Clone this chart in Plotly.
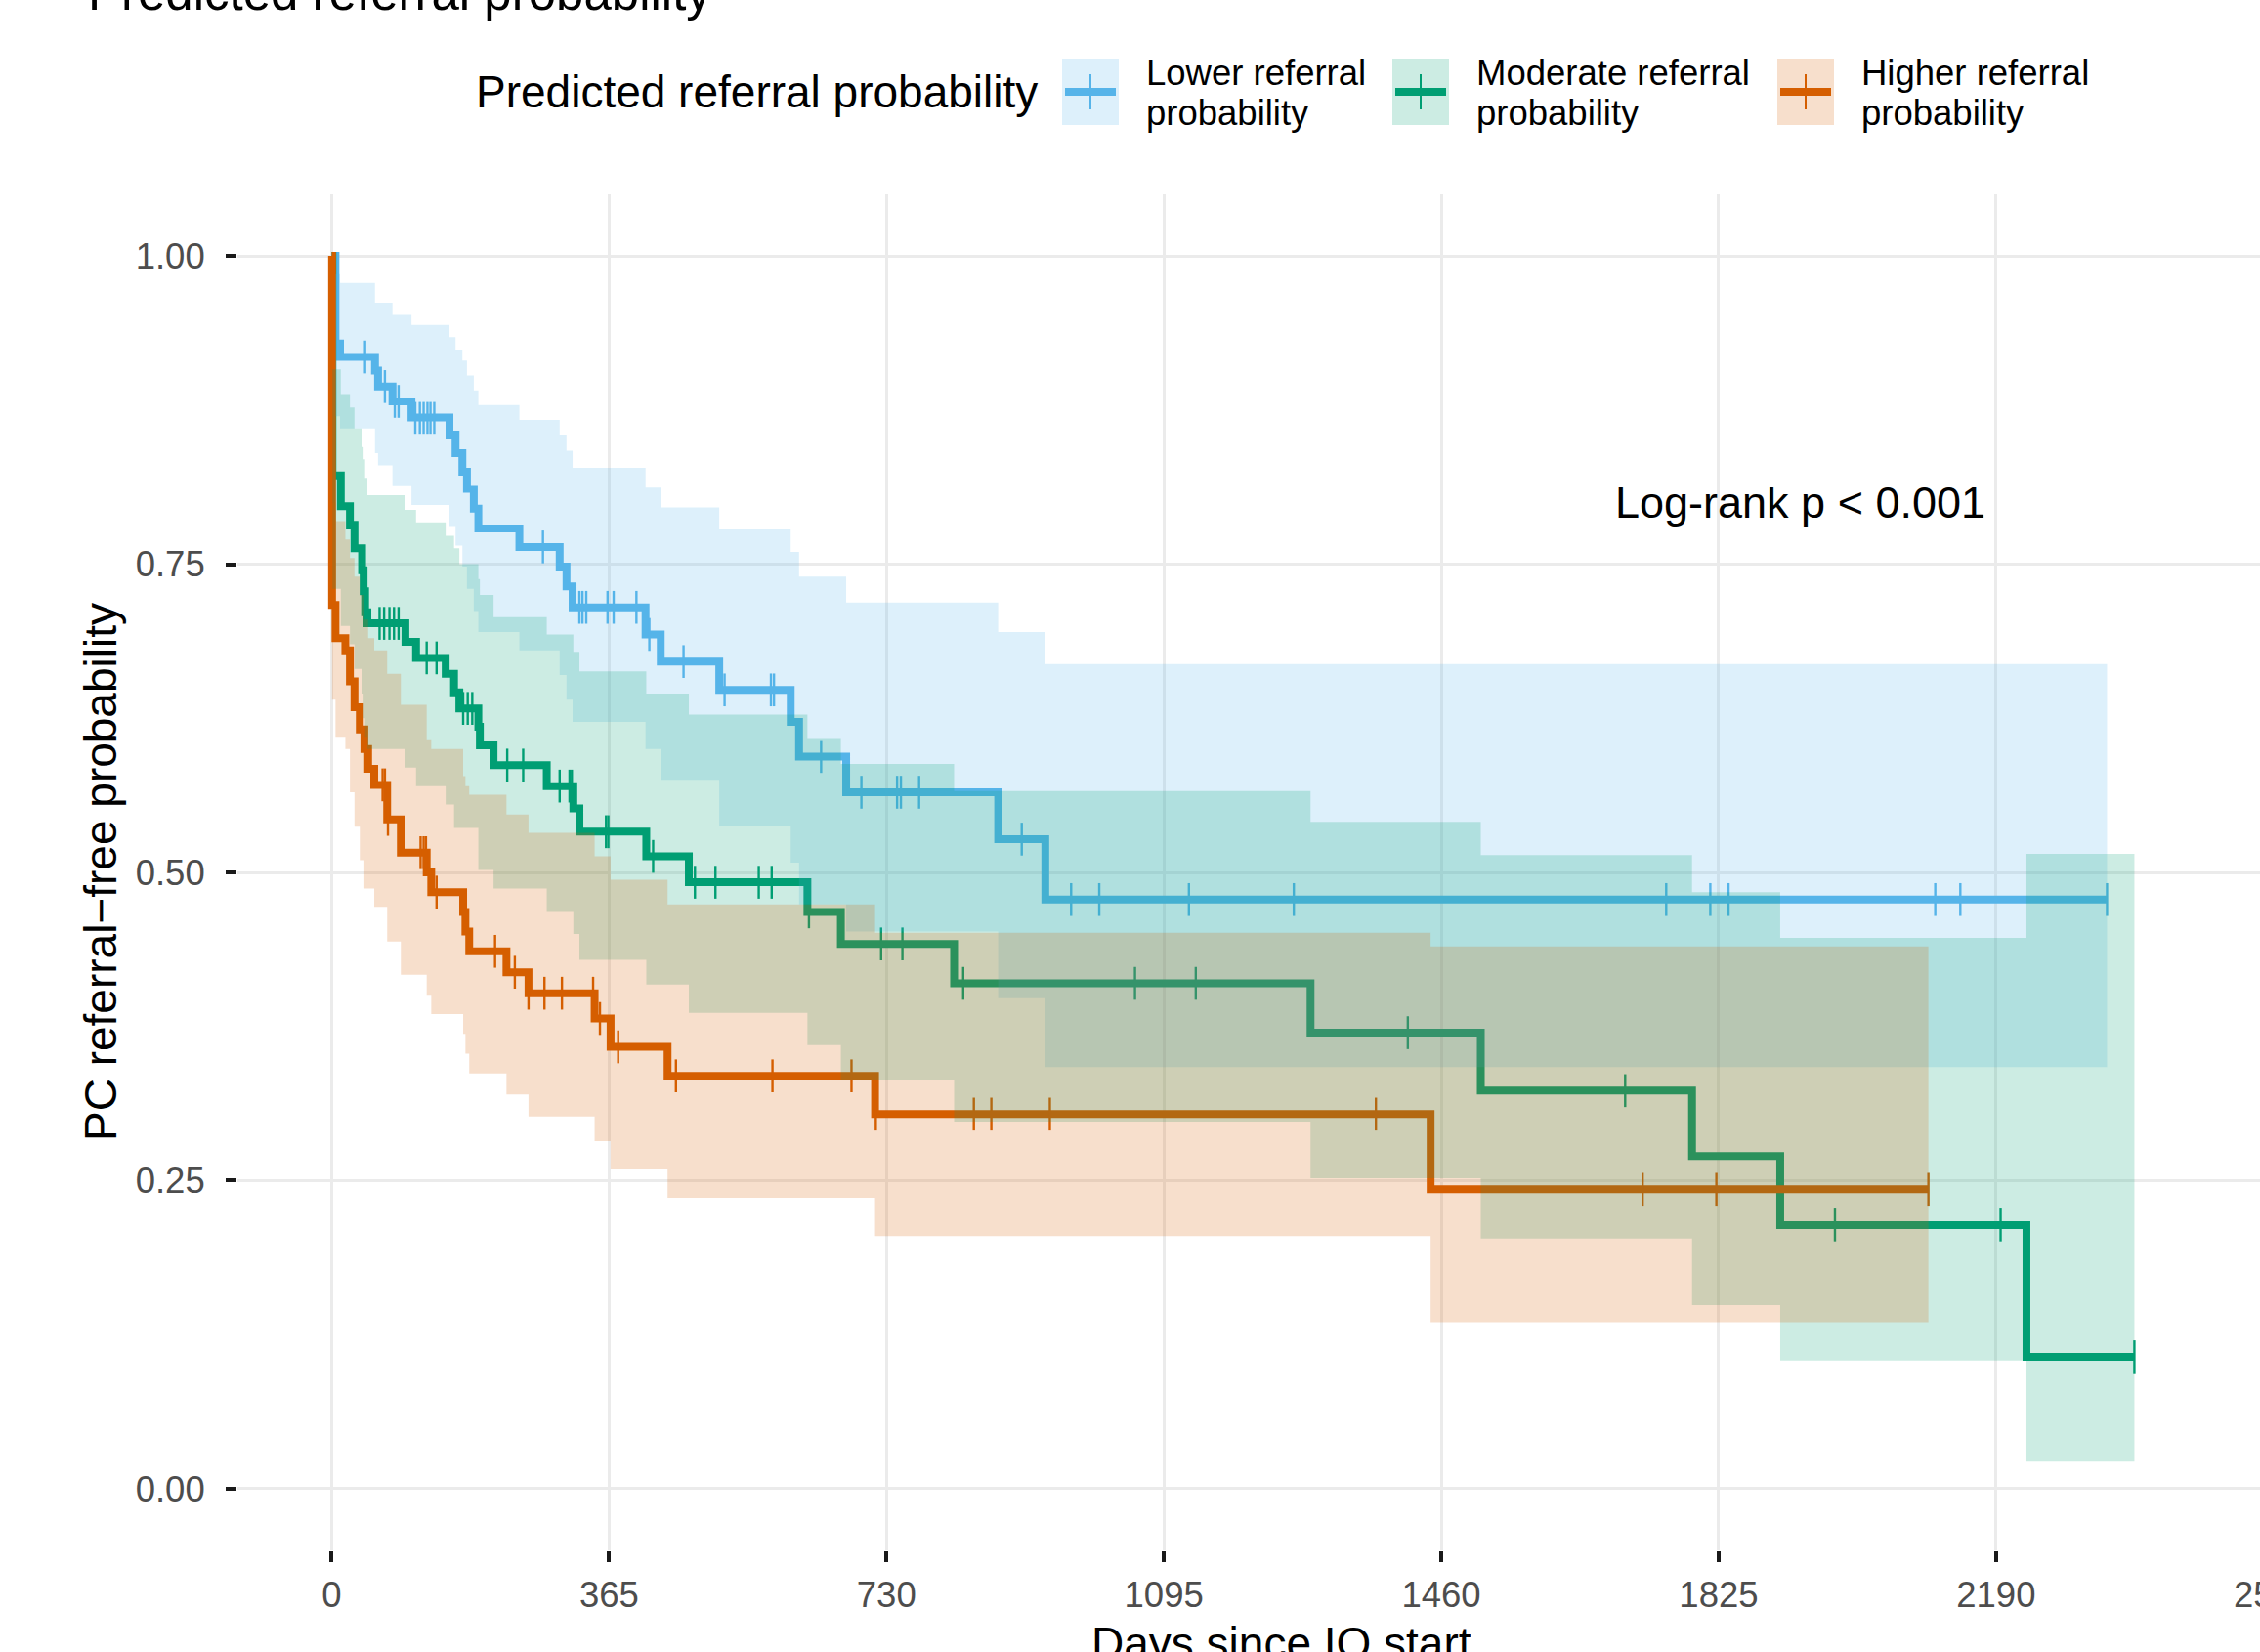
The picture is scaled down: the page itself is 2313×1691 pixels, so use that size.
import bisect
import plotly.graph_objects as go

# ---------------- data ----------------
# Lower referral probability group
low_time = [0, 5, 11, 57, 61, 80, 105, 155, 163, 172, 178, 187, 193, 247, 300, 309, 317, 413, 433, 510, 604, 615, 677, 877, 939]
low_surv = [1.0, 0.929, 0.918, 0.907, 0.894, 0.882, 0.869, 0.855, 0.840, 0.825, 0.811, 0.795, 0.779, 0.764, 0.748, 0.732, 0.715, 0.693, 0.671, 0.648, 0.622, 0.594, 0.565, 0.527, 0.478]
low_upper = [1.0, 0.986, 0.978, 0.962, 0.962, 0.953, 0.944, 0.934, 0.924, 0.915, 0.903, 0.891, 0.879, 0.867, 0.855, 0.842, 0.828, 0.812, 0.796, 0.779, 0.760, 0.740, 0.719, 0.695, 0.669]
low_lower = [1.0, 0.870, 0.860, 0.840, 0.830, 0.814, 0.798, 0.781, 0.765, 0.748, 0.730, 0.712, 0.695, 0.680, 0.660, 0.640, 0.622, 0.600, 0.575, 0.538, 0.508, 0.474, 0.452, 0.398, 0.342]
low_end = 2336
low_censor = [44, 70, 83, 88, 110, 116, 121, 126, 130, 135, 278, 326, 330, 335, 363, 371, 401, 418, 463, 517, 578, 582, 644, 697, 744, 749, 773, 908, 973, 1010, 1128, 1266, 1756, 1814, 1838, 2110, 2143, 2336]

# Moderate referral probability group
mod_time = [0, 1, 12, 24, 30, 40, 42, 44, 47, 97, 111, 150, 161, 168, 193, 195, 213, 283, 318, 326, 414, 470, 626, 670, 819, 1288, 1512, 1790, 1906, 2230]
mod_surv = [1.0, 0.822, 0.797, 0.782, 0.763, 0.745, 0.728, 0.711, 0.702, 0.687, 0.674, 0.661, 0.646, 0.633, 0.618, 0.603, 0.587, 0.570, 0.552, 0.533, 0.513, 0.492, 0.468, 0.442, 0.410, 0.370, 0.323, 0.270, 0.214, 0.107]
mod_upper = [1.0, 0.908, 0.888, 0.877, 0.860, 0.845, 0.835, 0.820, 0.806, 0.794, 0.784, 0.773, 0.763, 0.750, 0.738, 0.725, 0.707, 0.693, 0.679, 0.663, 0.645, 0.628, 0.609, 0.588, 0.566, 0.541, 0.514, 0.484, 0.447, 0.515]
mod_lower = [1.0, 0.730, 0.700, 0.685, 0.665, 0.645, 0.625, 0.610, 0.600, 0.585, 0.570, 0.555, 0.536, 0.536, 0.502, 0.502, 0.487, 0.468, 0.450, 0.429, 0.409, 0.386, 0.360, 0.332, 0.298, 0.252, 0.203, 0.149, 0.104, 0.022]
mod_end = 2372
mod_censor = [63, 69, 76, 82, 88, 125, 138, 173, 179, 185, 231, 252, 300, 313, 316, 361, 364, 423, 478, 505, 562, 579, 628, 723, 751, 831, 1057, 1137, 1416, 1702, 1978, 2196, 2372]

# Higher referral probability group
high_time = [0, 0.5, 5, 18, 24, 30, 37, 43, 48, 56, 73, 91, 125, 131, 173, 176, 181, 230, 259, 346, 367, 442, 715, 1446]
high_surv = [1.0, 0.717, 0.690, 0.680, 0.655, 0.634, 0.616, 0.600, 0.584, 0.571, 0.543, 0.516, 0.500, 0.484, 0.468, 0.452, 0.436, 0.419, 0.402, 0.3815, 0.3585, 0.335, 0.304, 0.243]
high_upper = [1.0, 0.800, 0.785, 0.770, 0.755, 0.740, 0.725, 0.705, 0.690, 0.680, 0.661, 0.636, 0.608, 0.600, 0.578, 0.570, 0.563, 0.547, 0.532, 0.513, 0.494, 0.474, 0.451, 0.440]
high_lower = [1.0, 0.640, 0.610, 0.600, 0.565, 0.537, 0.510, 0.487, 0.487, 0.472, 0.444, 0.417, 0.400, 0.385, 0.369, 0.353, 0.337, 0.320, 0.302, 0.282, 0.259, 0.236, 0.205, 0.135]
high_end = 2101
high_censor = [67, 70, 74, 117, 121, 124, 138, 215, 241, 259, 280, 303, 344, 353, 377, 453, 580, 684, 716, 845, 868, 945, 1374, 1725, 1822, 2101]

group_names = ["Lower referral probability", "Moderate referral probability", "Higher referral probability"]
legend_lines = [["Lower referral", "probability"], ["Moderate referral", "probability"], ["Higher referral", "probability"]]
colors = ["#56B4E9", "#009E73", "#D55E00"]
fills = ["rgba(86,180,233,0.2)", "rgba(0,158,115,0.2)", "rgba(213,94,0,0.2)"]

x_ticks = [0, 365, 730, 1095, 1460, 1825, 2190, 2555]
y_ticks = [0, 0.25, 0.5, 0.75, 1.0]
y_ticktext = ["0.00", "0.25", "0.50", "0.75", "1.00"]

title_text = "Predicted referral probability"
legend_title = "Predicted referral probability"
x_title = "Days since IO start"
y_title = "PC referral\u2212free probability"
pval_text = "Log-rank p < 0.001"

groups = [
    (low_time, low_surv, low_upper, low_lower, low_end, low_censor),
    (mod_time, mod_surv, mod_upper, mod_lower, mod_end, mod_censor),
    (high_time, high_surv, high_upper, high_lower, high_end, high_censor),
]

# ---------------- layout geometry ----------------
W, H = 2313, 1691
ML, MT = 243, 199
PW, PH = W - ML, 1388
MB = H - MT - PH
X_RANGE = [-124, 2537.3]
Y_RANGE = [-0.05, 1.05]


def px_x(px):
    return (px - ML) / PW


def px_y(py):
    return (MT + PH - py) / PH


def step_xy(t, v, end):
    xs, ys = [], []
    for i in range(len(t)):
        xs.append(t[i]); ys.append(v[i])
        nxt = t[i + 1] if i + 1 < len(t) else end
        xs.append(nxt); ys.append(v[i])
    return xs, ys


fig = go.Figure()

# survival curves (drawn below the ribbons, as in the reference)
for (t, s, up, lo, end, cens), name, col in zip(groups, group_names, colors):
    xs = list(t) + [end]
    ys = list(s) + [s[-1]]
    fig.add_trace(go.Scatter(x=xs, y=ys, mode="lines", line=dict(color=col, width=8, shape="hv"),
                             name=name, showlegend=False, hoverinfo="skip"))
    cy = [s[bisect.bisect_right(t, c) - 1] for c in cens]
    fig.add_trace(go.Scatter(x=cens, y=cy, mode="markers",
                             marker=dict(symbol="line-ns-open", size=24, color=col,
                                         line=dict(width=2.4, color=col)),
                             showlegend=False, hoverinfo="skip"))

# confidence ribbons on top
for (t, s, up, lo, end, cens), name, fc in zip(groups, group_names, fills):
    ux, uy = step_xy(t, up, end)
    lx, ly = step_xy(t, lo, end)
    px_ = ux + lx[::-1]
    py_ = uy + ly[::-1]
    fig.add_trace(go.Scatter(x=px_, y=py_, mode="lines", fill="toself", fillcolor=fc,
                             line=dict(width=0, color=fc), showlegend=False, hoverinfo="skip"))

FONT = "Liberation Sans, Arial, sans-serif"
annotations = []
shapes = []

# p-value
annotations.append(dict(x=1933, y=0.80, xref="x", yref="y", text=pval_text, showarrow=False,
                        font=dict(family=FONT, size=45, color="black"), xanchor="center", yanchor="middle"))

# y title
annotations.append(dict(x=px_x(103), y=0.5, xref="paper", yref="paper", text=y_title, textangle=-90,
                        showarrow=False, font=dict(family=FONT, size=46, color="black"),
                        xanchor="center", yanchor="middle"))
# x title (cut at the bottom of the picture)
annotations.append(dict(x=1250, y=px_y(1682), xref="x", yref="paper", text=x_title, showarrow=False,
                        font=dict(family=FONT, size=46, color="black"), xanchor="center", yanchor="middle"))
# partly visible last tick label
annotations.append(dict(x=(2555 - X_RANGE[0]) / (X_RANGE[1] - X_RANGE[0]), y=px_y(1632), xref="paper", yref="paper",
                        text="2555", showarrow=False, font=dict(family=FONT, size=36.5, color="#4D4D4D"),
                        xanchor="center", yanchor="middle"))
# plot title, mostly outside the picture
annotations.append(dict(x=px_x(88), y=px_y(-8), xref="paper", yref="paper", text=title_text, showarrow=False,
                        font=dict(family=FONT, size=51, color="black"), xanchor="left", yanchor="middle"))

# legend
annotations.append(dict(x=px_x(485), y=px_y(94), xref="paper", yref="paper", text=legend_title, showarrow=False,
                        font=dict(family=FONT, size=46, color="black"), xanchor="left", yanchor="middle"))
key_left = [1087, 1425, 1819]
for kl, col, fc, lines in zip(key_left, colors, fills, legend_lines):
    shapes.append(dict(type="rect", xref="paper", yref="paper", x0=px_x(kl), x1=px_x(kl + 58),
                       y0=px_y(128), y1=px_y(60), fillcolor=fc, line=dict(width=0), layer="above"))
    shapes.append(dict(type="line", xref="paper", yref="paper", x0=px_x(kl + 3), x1=px_x(kl + 55),
                       y0=px_y(94), y1=px_y(94), line=dict(color=col, width=8), layer="above"))
    shapes.append(dict(type="line", xref="paper", yref="paper", x0=px_x(kl + 29), x1=px_x(kl + 29),
                       y0=px_y(76), y1=px_y(112), line=dict(color=col, width=2), layer="above"))
    annotations.append(dict(x=px_x(kl + 26 + 58), y=px_y(75), xref="paper", yref="paper", text=lines[0],
                            showarrow=False, font=dict(family=FONT, size=36.5, color="black"),
                            xanchor="left", yanchor="middle"))
    annotations.append(dict(x=px_x(kl + 26 + 58), y=px_y(115), xref="paper", yref="paper", text=lines[1],
                            showarrow=False, font=dict(family=FONT, size=36.5, color="black"),
                            xanchor="left", yanchor="middle"))

fig.update_layout(
    width=W, height=H,
    margin=dict(l=ML, r=0, t=MT, b=MB, pad=0),
    paper_bgcolor="white", plot_bgcolor="white",
    showlegend=False,
    font=dict(family=FONT, color="black"),
    annotations=annotations,
    shapes=shapes,
)
fig.update_xaxes(range=X_RANGE, tickvals=x_ticks, ticktext=[str(v) for v in x_ticks],
                 showgrid=True, gridcolor="#EBEBEB", gridwidth=3, zeroline=False, showline=False,
                 ticks="outside", ticklen=11, tickwidth=4, tickcolor="#1A1A1A",
                 tickfont=dict(family=FONT, size=36.5, color="#4D4D4D"), ticklabelstandoff=2,
                 automargin=False)
fig.update_yaxes(range=Y_RANGE, tickvals=y_ticks, ticktext=y_ticktext,
                 showgrid=True, gridcolor="#EBEBEB", gridwidth=3, zeroline=False, showline=False,
                 ticks="outside", ticklen=11, tickwidth=4, tickcolor="#1A1A1A",
                 tickfont=dict(family=FONT, size=36.5, color="#4D4D4D"), ticklabelstandoff=14,
                 automargin=False)

fig.write_html("out.html", config={"displayModeBar": False},
               post_script="document.body.style.margin='0px';document.body.style.overflow='hidden';")
